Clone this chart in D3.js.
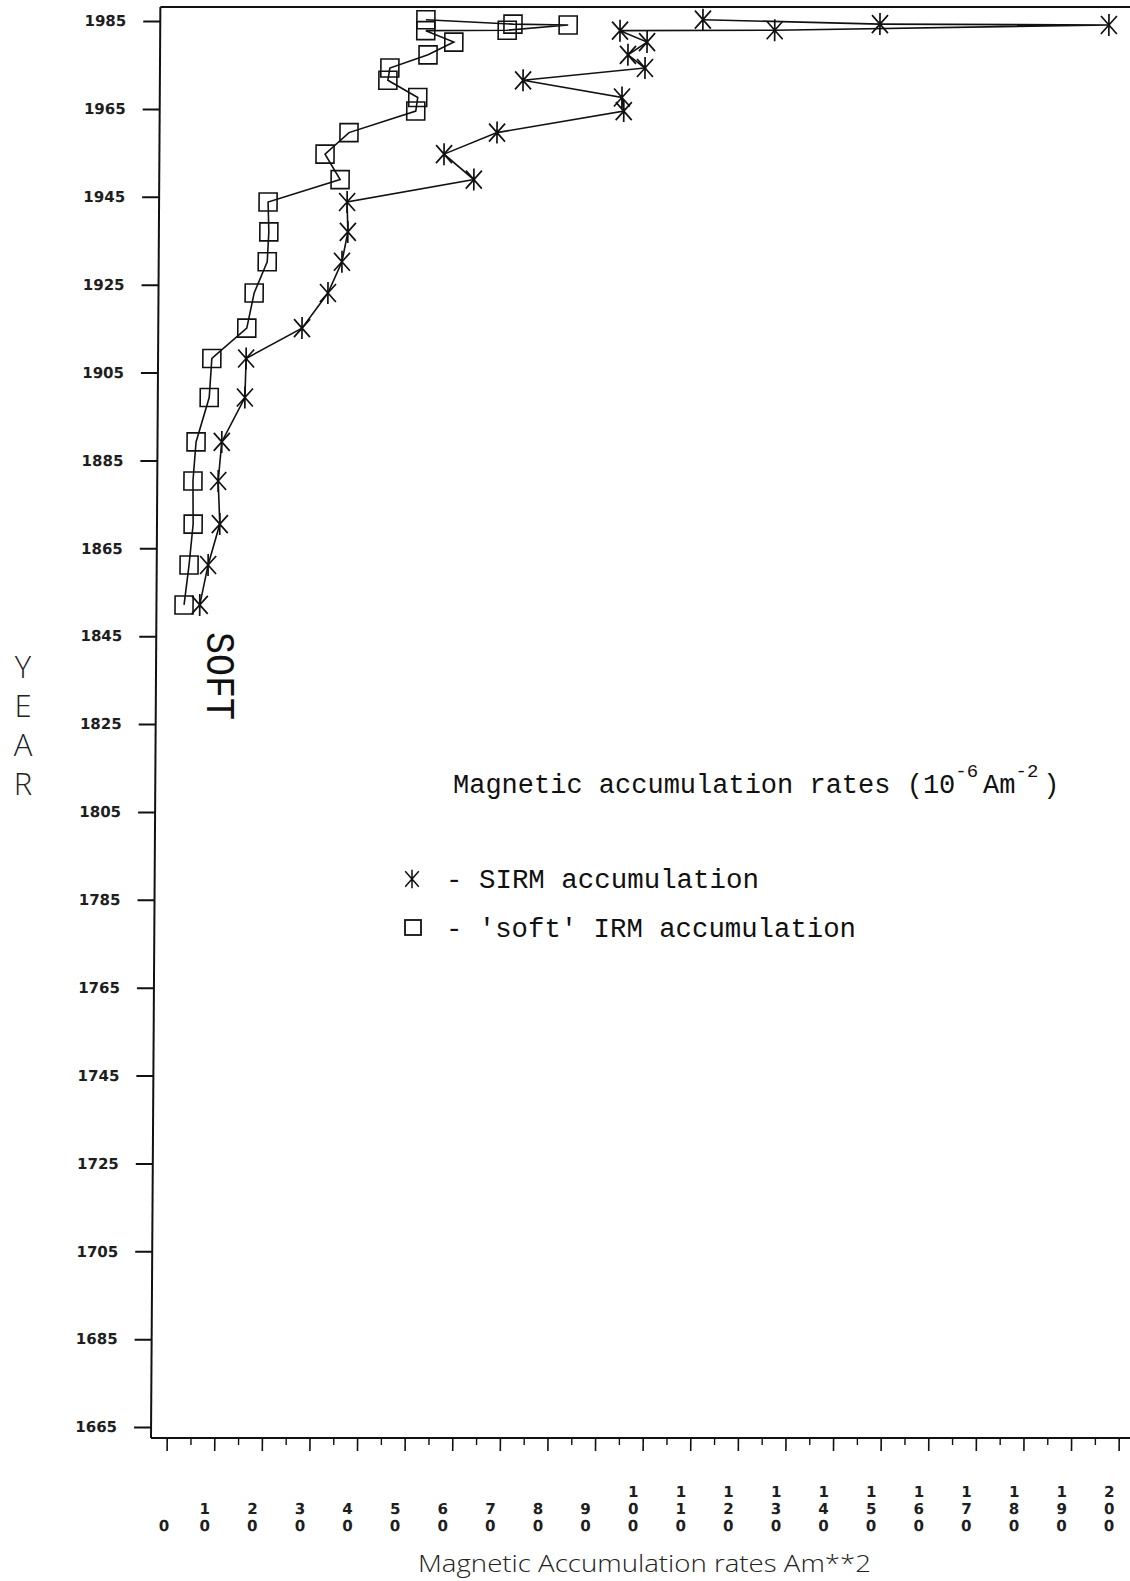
<!DOCTYPE html>
<html>
<head>
<meta charset="utf-8">
<script src="https://cdn.jsdelivr.net/npm/d3@7"></script>
<style>
  html, body { margin: 0; padding: 0; background: #fff; }
  svg { display: block; }
</style>
</head>
<body>
<script>
// Sample dates (years AD) shared by both profiles, youngest first
const years = [1985.3, 1984.3, 1984.1, 1982.9, 1982.8, 1980.2, 1977.3, 1974.3, 1971.5,
  1967.6, 1964.5, 1959.6, 1954.7, 1948.9, 1943.8, 1937.0, 1930.2, 1923.1, 1915.1,
  1908.2, 1899.3, 1889.2, 1880.3, 1870.5, 1861.2, 1852.1];

// SIRM accumulation rates (10^-6 Am^-2)
const sirm = [110.7, 147.9, 196.0, 125.8, 93.3, 99.0, 95.0, 98.6, 73.0,
  93.8, 94.2, 67.6, 56.5, 62.8, 36.2, 36.4, 35.2, 32.3, 26.9,
  15.2, 15.0, 10.2, 9.5, 9.9, 7.5, 5.8];

// 'soft' IRM accumulation rates (10^-6 Am^-2)
const softIrm = [52.5, 70.8, 82.4, 69.6, 52.5, 58.4, 53.0, 45.0, 44.6,
  50.9, 50.5, 36.5, 31.5, 34.7, 19.6, 19.8, 19.5, 16.8, 15.3,
  8.0, 7.5, 4.8, 4.2, 4.3, 3.5, 2.5];

// Axis ticks
const yearTicks = [1985, 1965, 1945, 1925, 1905, 1885, 1865, 1845, 1825,
  1805, 1785, 1765, 1745, 1725, 1705, 1685, 1665];
const rateTicks = d3.range(0, 201, 10);
const rateMinorTicks = d3.range(5, 200, 10);

const W = 1130, H = 1581;
const svg = d3.select("body").append("svg").attr("width", W).attr("height", H);
svg.append("rect").attr("width", W).attr("height", H).attr("fill", "#fff");

const x = d3.scaleLinear().domain([0, 200]).range([166.7, 1118.7]);
const y = d3.scaleLinear().domain([1665, 1985]).range([1427, 21]);

const axisX = 151, axisTop = 7, axisBottom = 1438;

// the plotter's frame leans slightly: a small horizontal shear about the x-axis
const shear = 0.006545;
const plot = svg.append("g")
  .attr("transform", `translate(${shear * axisBottom},0) skewX(${-Math.atan(shear) * 180 / Math.PI})`);

const ink = "#111";

// frame: left axis, top border, bottom axis
plot.append("line").attr("x1", axisX).attr("x2", axisX).attr("y1", axisTop).attr("y2", axisBottom)
  .attr("stroke", ink).attr("stroke-width", 2);
plot.append("line").attr("x1", axisX).attr("x2", 1140).attr("y1", axisTop).attr("y2", axisTop)
  .attr("stroke", ink).attr("stroke-width", 1.8);
plot.append("line").attr("x1", axisX).attr("x2", 1140).attr("y1", axisBottom).attr("y2", axisBottom)
  .attr("stroke", ink).attr("stroke-width", 2);

// year axis
const gy = plot.append("g").attr("transform", `translate(${axisX},0)`)
  .call(d3.axisLeft(y).tickValues(yearTicks).tickSize(17).tickPadding(17).tickFormat(d3.format("d")));
gy.select(".domain").remove();
gy.selectAll(".tick line").attr("stroke", ink).attr("stroke-width", 2);
gy.selectAll(".tick text")
  .attr("fill", "#1e1e1e")
  .style("font-family", "'DejaVu Sans', sans-serif")
  .style("font-weight", "bold")
  .style("font-size", "15px");

// rate axis: major and minor ticks
const gx = plot.append("g").attr("transform", `translate(0,${axisBottom})`)
  .call(d3.axisBottom(x).tickValues(rateTicks).tickSize(13).tickFormat(""));
gx.select(".domain").remove();
gx.selectAll(".tick line").attr("stroke", ink).attr("stroke-width", 1.6);
const gxm = plot.append("g").attr("transform", `translate(0,${axisBottom})`)
  .call(d3.axisBottom(x).tickValues(rateMinorTicks).tickSize(7).tickFormat(""));
gxm.select(".domain").remove();
gxm.selectAll(".tick line").attr("stroke", ink).attr("stroke-width", 1.4);

// rate labels, digits stacked one above another
const rowY = [1526, 1509, 1492];
rateTicks.forEach(v => {
  const digits = String(v).split("");
  const cx = x(v) - (v === 0 ? 2 : 9);
  digits.forEach((ch, i) => {
    plot.append("text")
      .attr("x", cx)
      .attr("y", rowY[digits.length - 1 - i])
      .attr("text-anchor", "middle")
      .attr("dominant-baseline", "central")
      .attr("fill", "#1e1e1e")
      .style("font-family", "'DejaVu Sans', sans-serif")
      .style("font-weight", "bold")
      .style("font-size", "15px")
      .text(ch);
  });
});

// profiles
const line = d3.line().x(d => x(d[1])).y(d => y(d[0]));
const sirmPts = d3.zip(years, sirm);
const softPts = d3.zip(years, softIrm);

plot.append("path").datum(sirmPts).attr("d", line)
  .attr("fill", "none").attr("stroke", ink).attr("stroke-width", 1.6);
plot.append("path").datum(softPts).attr("d", line)
  .attr("fill", "none").attr("stroke", ink).attr("stroke-width", 1.6);

const starPath = "M0,-11V11M-8,-9L8,9M-8,9L8,-9";
plot.append("g").selectAll("path").data(sirmPts).join("path")
  .attr("transform", d => `translate(${x(d[1])},${y(d[0])})`)
  .attr("d", starPath)
  .attr("fill", "none").attr("stroke", ink).attr("stroke-width", 1.7);

plot.append("g").selectAll("rect").data(softPts).join("rect")
  .attr("x", d => x(d[1]) - 9).attr("y", d => y(d[0]) - 9)
  .attr("width", 18).attr("height", 18)
  .attr("fill", "none").attr("stroke", ink).attr("stroke-width", 1.6);

// label beside the soft profile, written downwards
svg.append("text")
  .attr("transform", "translate(207,676) rotate(90)")
  .attr("x", 0).attr("y", 0)
  .attr("text-anchor", "middle")
  .attr("fill", ink)
  .attr("textLength", 88).attr("lengthAdjust", "spacingAndGlyphs")
  .style("font-family", "'Liberation Mono', monospace")
  .style("font-size", "40px")
  .text("SOFT");

// vertical axis title
const yTitle = "YEAR".split("");
yTitle.forEach((ch, i) => {
  svg.append("text")
    .attr("x", 23).attr("y", 678 + i * 39)
    .attr("text-anchor", "middle")
    .attr("fill", "#222")
    .style("font-family", "'Open Sans', 'DejaVu Sans', sans-serif")
    .style("font-weight", 300)
    .style("font-size", "31px")
    .text(ch);
});

// horizontal axis title
svg.append("text")
  .attr("x", 418).attr("y", 1572)
  .attr("fill", "#222")
  .attr("textLength", 453).attr("lengthAdjust", "spacingAndGlyphs")
  .style("font-family", "'Open Sans', 'DejaVu Sans', sans-serif")
  .style("font-weight", 300)
  .style("font-size", "23px")
  .text("Magnetic Accumulation rates Am**2");

// key
const mono = "'Liberation Mono', 'DejaVu Sans Mono', monospace";
const keyTitle = svg.append("text")
  .attr("x", 453).attr("y", 793)
  .attr("fill", ink)
  .style("font-family", mono)
  .style("font-size", "27px");
keyTitle.append("tspan").text("Magnetic accumulation rates (10");
keyTitle.append("tspan").attr("dy", -16).style("font-size", "19px").text("-6");
keyTitle.append("tspan").attr("dy", 16).attr("dx", 5).text("Am");
keyTitle.append("tspan").attr("dy", -16).style("font-size", "19px").text("-2");
keyTitle.append("tspan").attr("dy", 16).attr("dx", 5).text(")");

svg.append("path")
  .attr("transform", "translate(412,879) scale(0.85)")
  .attr("d", starPath)
  .attr("fill", "none").attr("stroke", ink).attr("stroke-width", 1.8);
svg.append("rect")
  .attr("x", 405).attr("y", 920).attr("width", 16).attr("height", 15)
  .attr("fill", "none").attr("stroke", ink).attr("stroke-width", 1.8);

svg.append("text")
  .attr("x", 446).attr("y", 888)
  .attr("fill", ink)
  .attr("textLength", 313).attr("lengthAdjust", "spacingAndGlyphs")
  .style("font-family", mono)
  .style("font-size", "27px")
  .text("- SIRM accumulation");
svg.append("text")
  .attr("x", 446).attr("y", 937)
  .attr("fill", ink)
  .attr("textLength", 410).attr("lengthAdjust", "spacingAndGlyphs")
  .style("font-family", mono)
  .style("font-size", "27px")
  .text("- 'soft' IRM accumulation");
</script>
</body>
</html>
